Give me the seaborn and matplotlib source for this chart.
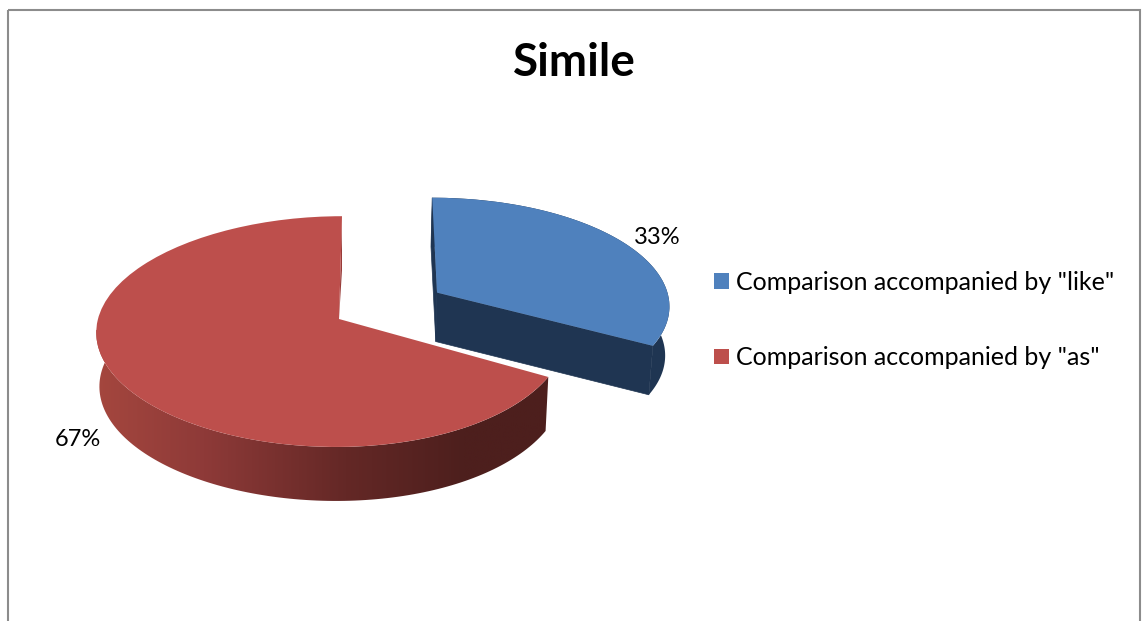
import numpy as np
import matplotlib
matplotlib.use('Agg')
import matplotlib.pyplot as plt
import seaborn as sns
from matplotlib.colors import LinearSegmentedColormap
from matplotlib.patches import Polygon, Rectangle
from matplotlib.transforms import Transform

categories = ['Comparison accompanied by "like"', 'Comparison accompanied by "as"']
shares = [33, 67]
top_colors = ['#4F81BD', '#BD4F4C']
title = 'Simile'


class Tilt(Transform):
    # pie coords -> pixels, fakes the Excel 3D perspective
    input_dims = 2
    output_dims = 2

    def __init__(self, cx, cy, sx, sy, persp=0.109, skew=0.0, bend=0.0):
        super().__init__()
        self.cx, self.cy, self.sx, self.sy = cx, cy, sx, sy
        self.persp, self.skew, self.bend = persp, skew, bend

    def transform_non_affine(self, xy):
        x, y = np.asarray(xy, dtype=float).T
        w = 1 + self.persp * y
        x = x - self.bend * x * x
        return np.column_stack([self.cx + self.sx * x / w + self.skew * y,
                                self.cy - self.sy * y / w])


def arc_points(wedge, tilt, n=200):
    t = np.radians(np.linspace(wedge.theta1, wedge.theta2, n))
    pts = np.column_stack([wedge.center[0] + wedge.r * np.cos(t),
                           wedge.center[1] + wedge.r * np.sin(t)])
    return tilt.transform(pts)


def drop(pts, depth):
    # bottom rim of a wall, a bit narrower than the top rim
    pts = np.atleast_2d(pts)
    return np.column_stack([340 + (pts[:, 0] - 340) * 0.987, pts[:, 1] + depth])


sns.set_theme(style='white')
plt.rcParams['font.family'] = ['Lato', 'DejaVu Sans']

fig, ax = plt.subplots(figsize=(11.46, 6.21), dpi=100)
fig.subplots_adjust(left=0, right=1, bottom=0, top=1)

wedges, _, pct = ax.pie(shares, colors=sns.color_palette(top_colors), explode=[0.518, 0],
                        startangle=90, counterclock=False, autopct='%d%%',
                        wedgeprops={'edgecolor': 'none', 'linewidth': 0},
                        textprops={'fontsize': 17, 'color': 'black'})
blue, red = wedges
ax.set_aspect('auto')
ax.set_xlim(0, 1146)
ax.set_ylim(621, 0)
ax.set_frame_on(False)

blue_tilt = Tilt(333, 321, 237, 111, skew=5.0)
red_tilt = Tilt(339, 319, 234, 114, skew=3.0, bend=0.03)
blue.set_transform(blue_tilt + ax.transData)
red.set_transform(red_tilt + ax.transData)
blue.set_zorder(5)
red.set_zorder(3)

# red side wall, shaded left to right
depth_red = 54
arc = arc_points(red, red_tilt)
wall = Polygon(np.vstack([arc, drop(arc, depth_red)[::-1]]), closed=True,
               transform=ax.transData, fc='none', ec='none')
ax.add_patch(wall)
cmap = LinearSegmentedColormap.from_list('wall', [(0, '#A7483F'), (0.25, '#8E3A38'),
                                                  (0.55, '#642826'), (0.8, '#4D1F1D'),
                                                  (1, '#4D1F1D')])
im = ax.imshow(np.linspace(0, 1, 256)[None, :], extent=(85, 560, 520, 330), aspect='auto',
               cmap=cmap, zorder=1)
im.set_clip_path(wall)
ax.set_xlim(0, 1146)
ax.set_ylim(621, 0)

# thin inner face next to the gap
back = arc[0] if arc[0][1] < arc[-1][1] else arc[-1]
apex = red_tilt.transform(np.array([red.center]))[0]
ax.add_patch(Polygon([back, back + [0, depth_red], apex], closed=True, fc='#983C39',
                     ec='none', zorder=2))

# blue walls
depth_blue = 49
dark_blue = '#1F3552'
arc = arc_points(blue, blue_tilt)
apex = blue_tilt.transform(np.array([blue.center]))[0]
ax.add_patch(Polygon(np.vstack([arc, drop(arc, depth_blue)[::-1]]), closed=True,
                     fc=dark_blue, ec='none', zorder=4))
inner_faces = [np.vstack([[apex], [arc[0]], drop(arc[0], depth_blue), drop(apex, depth_blue)]),
               np.vstack([[apex], [arc[-1]], drop(arc[-1], depth_blue), drop(apex, depth_blue)])]
for face in inner_faces:
    ax.add_patch(Polygon(face, closed=True, fc=dark_blue, ec=dark_blue, lw=0.5, zorder=4))

pct[0].set_transform(ax.transData)
pct[0].set_position((657, 238))
pct[1].set_transform(ax.transData)
pct[1].set_position((78, 439))
for t in pct:
    t.set_zorder(6)

ax.text(574, 63, title, fontsize=33, fontweight='bold', ha='center', va='center', color='black')

ax.legend(wedges, categories, loc='center left', bbox_to_anchor=(714, 320),
          bbox_transform=ax.transData, frameon=False, fontsize=18, borderpad=0,
          borderaxespad=0, handlelength=0.6, handleheight=0.6, handletextpad=0.28,
          labelspacing=2.1, labelcolor='black')

# chart area border, its bottom edge is cut off by the image
ax.add_patch(Rectangle((8, 10), 1132, 700, fc='none', ec='#8C8C8C', lw=1.5, zorder=0))

fig.savefig('out.png', dpi=100, facecolor='white')
